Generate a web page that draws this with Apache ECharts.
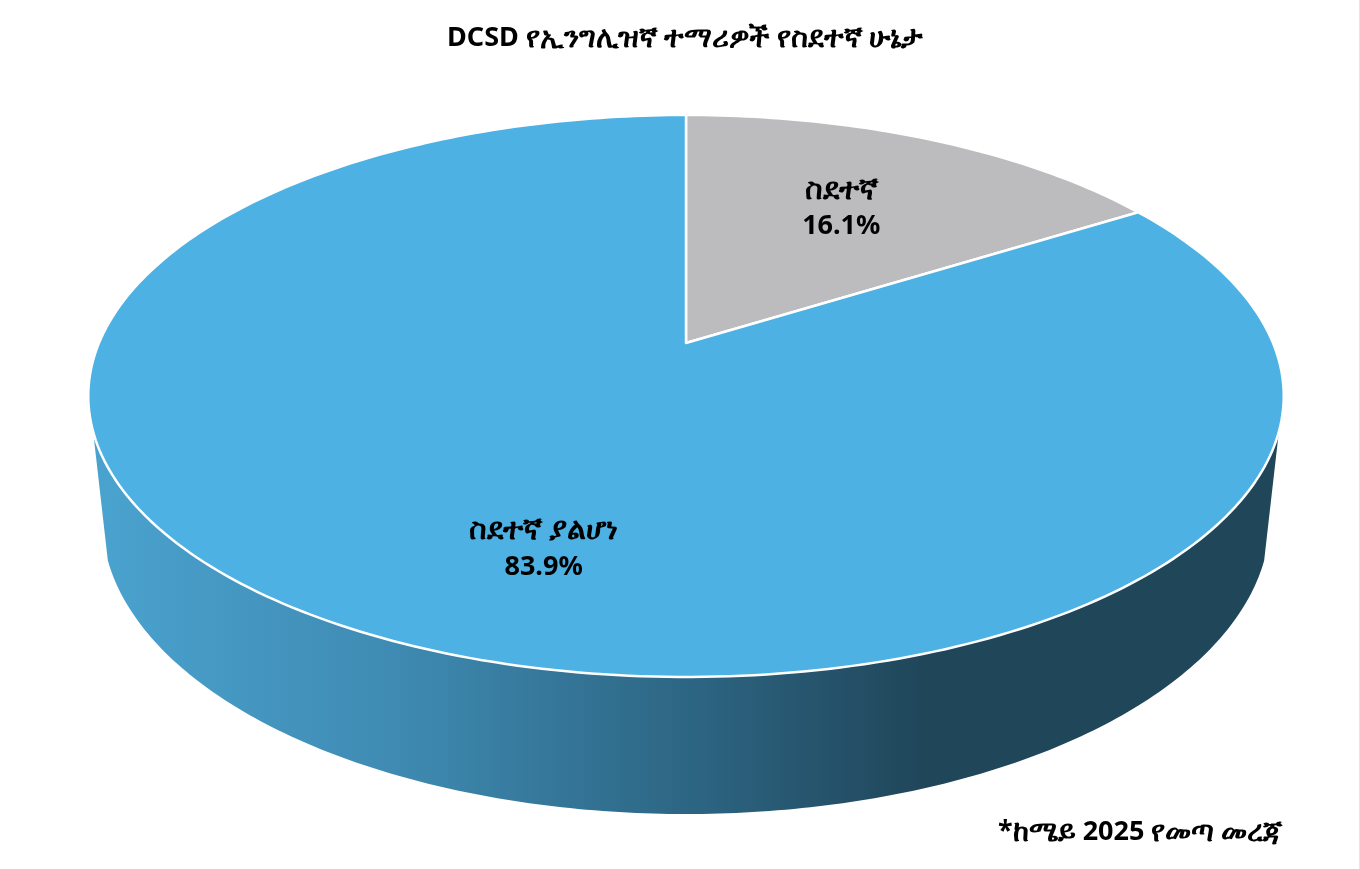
<!DOCTYPE html>
<html><head><meta charset="utf-8">
<style>html,body{margin:0;padding:0;background:#fff}#c{width:1360px;height:869px}</style>
<script src="https://cdn.jsdelivr.net/npm/echarts@6/dist/echarts.min.js"></script>
</head><body><div id="c"></div>
<script>
const titleText = 'DCSD የኢንግሊዝኛ ተማሪዎች የስደተኛ ሁኔታ';
const noteText = '*ከሜይ 2025 የመጣ መረጃ';
const categories = ['ስደተኛ', 'ስደተኛ ያልሆነ'];
const values = [16.1, 83.9];
const sliceColors = ['#bcbcbe', '#4db1e3'];
const FONT = "'Noto Sans','Open Sans','DejaVu Sans',sans-serif";

// perspective projection of the pie's top disc
const P = {cx: 686, cy: 343, B: 587, A: 271, k: 0.1886};
// lower rim ellipse; rim's side edges meet the disc at topEdge radians below its widest meridian
const L = {cx: 686, cy: 519, rx: 584, ry: 295, edge: 0.99, topEdge: 0.314};
const labelOffsets = [[0, -5], [47, 48]];
const total = values.reduce((a, b) => a + b, 0);

// split a string into rich-text runs: Ethiopic runs and Latin runs have different sizes
function richRuns(s, styleE, styleL) {
  return s.split(/([\u1200-\u137F]+)/).filter(Boolean).map(r =>
    '{' + (/[\u1200-\u137F]/.test(r) ? styleE : styleL) + '|' + r + '}').join('');
}
function project(theta, f) {
  const x = Math.sin(theta) * f, y = -Math.cos(theta) * f;
  const w = 1 - P.k * y;
  return [P.cx + P.B * x / w, P.cy + P.A * y / w];
}
function sliceAngles(i) {
  let s = 0;
  for (let j = 0; j < i; j++) s += values[j];
  return [s / total * 2 * Math.PI, (s + values[i]) / total * 2 * Math.PI];
}
function renderRim() {
  const pts = [];
  const a0 = Math.acos(L.edge);
  for (let i = 0; i <= 200; i++) {
    const t = a0 + (Math.PI - 2 * a0) * i / 200;
    pts.push([L.cx + L.rx * Math.cos(t), L.cy + L.ry * Math.sin(t)]);
  }
  const start = Math.PI * 1.5 - L.topEdge, end = Math.PI * 0.5 + L.topEdge;
  for (let i = 0; i <= 200; i++) pts.push(project(start + (end - start) * i / 200, 1));
  return {type: 'polygon', shape: {points: pts}, silent: true, style: {
    fill: new echarts.graphic.LinearGradient(0, 0, 1, 0, [
      {offset: 0, color: '#4aa3cf'},
      {offset: 0.25, color: '#3f8bb3'},
      {offset: 0.5, color: '#2d6684'},
      {offset: 0.70, color: '#20465a'},
      {offset: 1, color: '#20465a'}
    ])
  }};
}
const labelRich = {
  e: {fontFamily: FONT, fontWeight: 'bold', fontSize: 30, lineHeight: 36, fill: '#000', color: '#000'},
  l: {fontFamily: FONT, fontWeight: 'bold', fontSize: 27, lineHeight: 36, fill: '#000', color: '#000'}
};
function renderSlice(params) {
  const i = params.dataIndex;
  const [a, b] = sliceAngles(i);
  const pts = [project(a, 0)];
  const n = Math.ceil((b - a) / (2 * Math.PI) * 360);
  for (let j = 0; j <= n; j++) pts.push(project(a + (b - a) * j / n, 1));
  const mid = project((a + b) / 2, 0.6);
  const off = labelOffsets[i];
  return {type: 'group', children: [
    {type: 'polygon', shape: {points: pts}, silent: true,
     style: {fill: sliceColors[i], stroke: '#fff', lineWidth: 2.5, lineJoin: 'round'}},
    {type: 'text', x: mid[0] + off[0], y: mid[1] + off[1], silent: true, z2: 10, style: {
      text: richRuns(categories[i], 'e', 'l') + '\n' + '{l|' + values[i].toFixed(1) + '%}',
      align: 'center', verticalAlign: 'middle', rich: labelRich
    }}
  ]};
}
const textRich = {
  e: {fontFamily: FONT, fontWeight: 'bold', fontSize: 28.5, color: '#000'},
  l: {fontFamily: FONT, fontWeight: 'bold', fontSize: 27, color: '#000'}
};
const chart = echarts.init(document.getElementById('c'), null, {renderer: 'canvas'});
chart.setOption({
  animation: false,
  backgroundColor: '#fff',
  title: [
    {text: richRuns(titleText, 'e', 'l'), left: 680, top: 19, textAlign: 'center',
     textStyle: {rich: textRich}},
    {text: richRuns(noteText, 'e', 'l'), left: 993, top: 813,
     textStyle: {rich: textRich}}
  ],
  graphic: [{type: 'rect', shape: {x: 1359, y: 0, width: 1, height: 869}, style: {fill: '#e6e6e6'}, silent: true}],
  series: [
    {type: 'custom', coordinateSystem: 'none', data: [0], renderItem: renderRim, silent: true, z: 1},
    {type: 'custom', coordinateSystem: 'none', name: 'pie', z: 2, silent: true,
     data: categories.map((c, i) => ({name: c, value: values[i]})), renderItem: renderSlice}
  ]
});
</script></body></html>
